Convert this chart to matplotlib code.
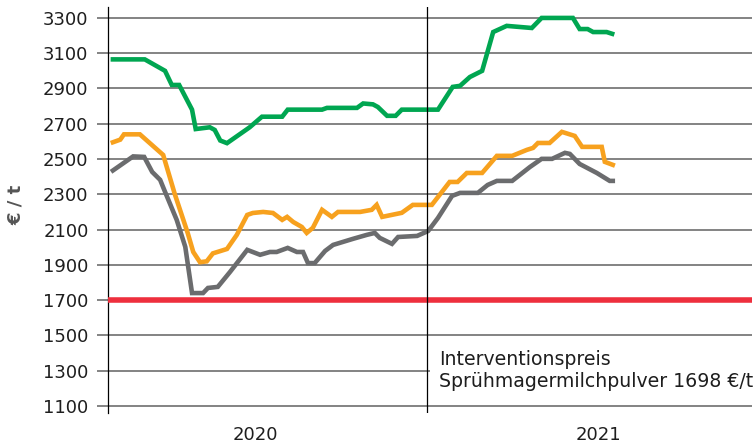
import numpy as np
import matplotlib.pyplot as plt
from matplotlib.patches import Rectangle

# weeks since start of 2020, values in EUR/t
green_w = [0.8, 6.0, 9.3, 10.4, 11.6, 13.7, 14.3, 16.6, 17.4, 18.3, 19.4, 23.1, 25.1, 28.4, 29.3,
           34.9, 35.7, 40.6, 41.6, 43.2, 44.0, 45.5, 46.9, 47.9, 53.8, 56.2, 57.4, 59.0, 61.0,
           62.8, 65.0, 69.1, 70.7, 75.8, 76.9, 78.2, 79.1, 81.3, 82.2]
green_v = [3065, 3065, 3000, 2920, 2920, 2780, 2670, 2680, 2665, 2605, 2590, 2680, 2740, 2740, 2780,
           2780, 2790, 2790, 2815, 2810, 2795, 2745, 2745, 2780, 2780, 2909, 2915, 2965, 3000,
           3220, 3255, 3243, 3300, 3300, 3237, 3237, 3220, 3220, 3210]

orange_w = [0.8, 2.0, 2.6, 5.2, 9.0, 10.9, 13.0, 13.9, 15.0, 16.1, 17.1, 19.4, 21.0, 22.7, 23.6,
            25.3, 26.9, 28.4, 29.2, 30.2, 31.6, 32.4, 33.4, 34.9, 36.5, 37.5, 41.1, 43.0, 43.8,
            44.7, 47.9, 49.7, 52.8, 55.7, 57.0, 58.5, 61.0, 63.4, 65.9, 68.3, 69.3, 70.1, 72.0,
            74.0, 76.1, 77.3, 80.5, 81.0, 82.3]
orange_v = [2595, 2610, 2640, 2640, 2523, 2300, 2080, 1973, 1915, 1920, 1965, 1990, 2070, 2183, 2194,
            2200, 2194, 2155, 2172, 2143, 2115, 2081, 2110, 2212, 2172, 2200, 2200, 2212, 2240,
            2172, 2195, 2240, 2240, 2370, 2370, 2421, 2421, 2518, 2518, 2552, 2563, 2591, 2591,
            2654, 2631, 2569, 2569, 2484, 2467]

gray_w = [0.8, 4.1, 5.9, 7.2, 8.5, 9.3, 11.2, 12.6, 13.7, 15.5, 16.3, 17.9, 19.9, 22.7, 24.8,
          26.4, 27.5, 29.3, 30.8, 31.8, 32.6, 33.7, 35.4, 36.7, 38.3, 39.9, 42.2, 43.5, 44.3,
          46.3, 47.3, 50.4, 52.2, 53.8, 56.1, 57.4, 60.3, 61.9, 63.4, 65.9, 68.8, 70.7, 72.4,
          74.5, 75.3, 76.9, 79.7, 81.8, 82.3]
gray_v = [2435, 2515, 2512, 2427, 2382, 2314, 2155, 2002, 1740, 1740, 1769, 1775, 1860, 1985, 1957,
          1973, 1973, 1996, 1973, 1973, 1910, 1910, 1979, 2013, 2030, 2047, 2070, 2081, 2053,
          2019, 2058, 2064, 2092, 2166, 2291, 2308, 2308, 2353, 2376, 2376, 2455, 2501, 2501,
          2535, 2529, 2472, 2421, 2376, 2376]

intervention = 1698
yticks = np.arange(1100, 3301, 200)
years = ['2020', '2021']
year_pos = [24.1, 80.0]
year_break = 52.0

fig = plt.figure(figsize=(7.56, 4.44), dpi=100)
ax = fig.add_axes([108/756, 31/444, 644/756, 406/444])

grid_col = '#7a7a7a'
for y in yticks:
    ax.axhline(y, color=grid_col, lw=1.3, zorder=1)

# white patch behind the note, hides the 1300 gridline
ax.add_patch(Rectangle((52.5, 1220), 60, 170, facecolor='white', edgecolor='none', zorder=2))

ax.axhline(intervention, color='#ee2f3d', lw=4, zorder=3)
ax.plot(green_w, green_v, color='#00a651', lw=3.3, solid_joinstyle='miter', zorder=4)
ax.plot(orange_w, orange_v, color='#f7a11e', lw=3.3, solid_joinstyle='miter', zorder=4)
ax.plot(gray_w, gray_v, color='#6b6c6e', lw=3.3, solid_joinstyle='miter', zorder=4)
ax.axvline(year_break, color='black', lw=0.9, zorder=5)

ax.set_xlim(0, 105)
ax.set_ylim(1060, 3362)
for s in ['top', 'right', 'bottom']:
    ax.spines[s].set_visible(False)
ax.spines['left'].set_linewidth(0.9)
ax.set_xticks([])
ax.set_yticks(yticks)
ax.tick_params(axis='y', length=8, width=1.3, color=grid_col, labelsize=13, pad=6,
               labelcolor='#1e1e1e')

for lab, p in zip(years, year_pos):
    ax.text(p, -0.055, lab, transform=ax.get_xaxis_transform(), ha='center', va='center',
            fontsize=13, color='#1e1e1e')

ax.text(54.0, 1300, 'Interventionspreis\nSprühmagermilchpulver 1698 €/t', ha='left', va='center',
        fontsize=13.6, color='#1e1e1e', linespacing=1.2, zorder=6)

fig.text(16/756, 1 - 205/444, '€ / t', rotation=90, ha='center', va='center',
         fontsize=13, fontweight='bold', color='#555555')

fig.savefig('out.png', dpi=100)
